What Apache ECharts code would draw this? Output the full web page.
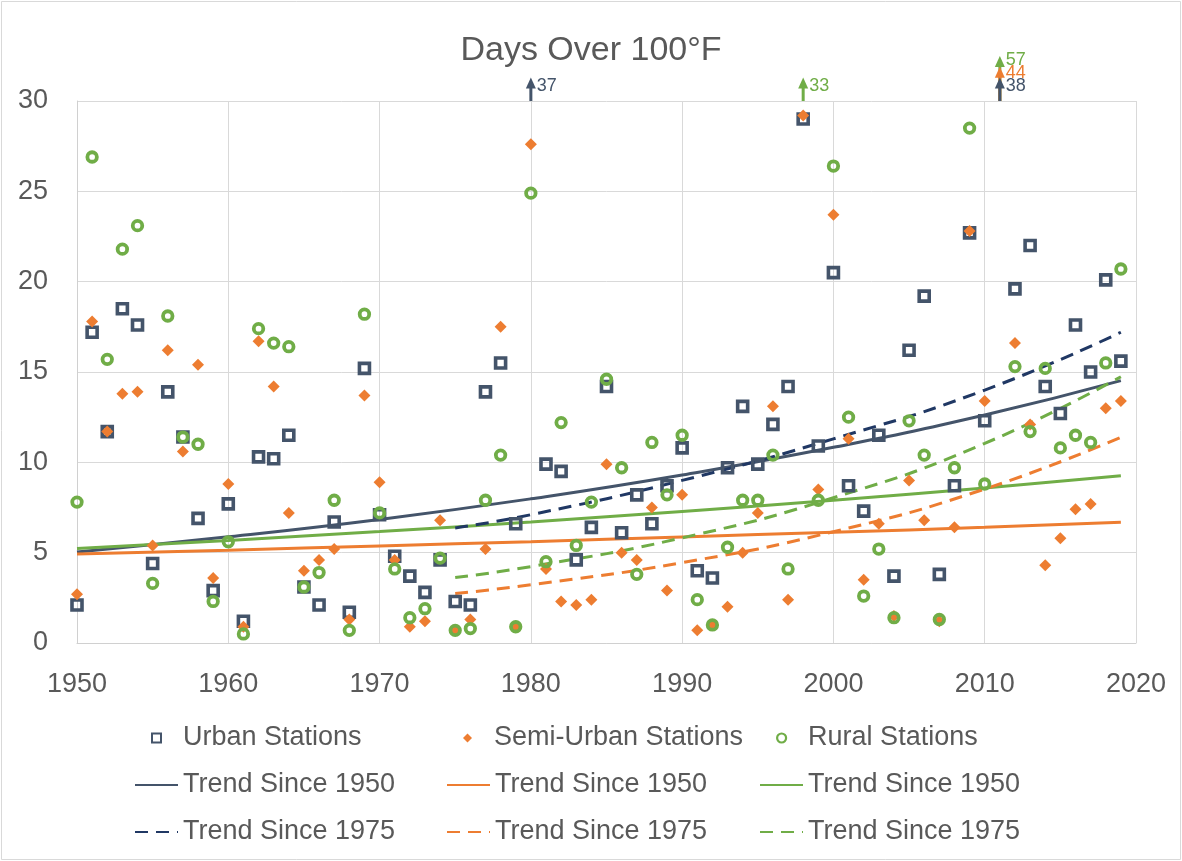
<!DOCTYPE html>
<html>
<head>
<meta charset="utf-8">
<script src="https://cdn.jsdelivr.net/npm/echarts@6/dist/echarts.min.js"></script>
<style>
html,body{margin:0;padding:0;background:#ffffff;}
#chart{width:1182px;height:861px;}
</style>
</head>
<body>
<div id="chart"></div>
<script>
// ---------- data ----------
const years = [1950,1951,1952,1953,1954,1955,1956,1957,1958,1959,
  1960,1961,1962,1963,1964,1965,1966,1967,1968,1969,
  1970,1971,1972,1973,1974,1975,1976,1977,1978,1979,
  1980,1981,1982,1983,1984,1985,1986,1987,1988,1989,
  1990,1991,1992,1993,1994,1995,1996,1997,1998,1999,
  2000,2001,2002,2003,2004,2005,2006,2007,2008,2009,
  2010,2011,2012,2013,2014,2015,2016,2017,2018,2019];

const urban = [2.1,17.2,11.7,18.5,17.6,4.4,13.9,11.4,6.9,2.9,
  7.7,1.2,10.3,10.2,11.5,3.1,2.1,6.7,1.7,15.2,
  7.1,4.8,3.7,2.8,4.6,2.3,2.1,13.9,15.5,6.6,
  37,9.9,9.5,4.6,6.4,14.2,6.1,8.2,6.6,8.7,
  10.8,4.0,3.6,9.7,13.1,9.9,12.1,14.2,29.0,10.9,
  20.5,8.7,7.3,11.5,3.7,16.2,19.2,3.8,8.7,22.7,
  12.3,38,19.6,22.0,14.2,12.7,17.6,15.0,20.1,15.6];

const semiUrban = [2.7,17.8,11.7,13.8,13.9,5.4,16.2,10.6,15.4,3.6,
  8.8,0.9,16.7,14.2,7.2,4.0,4.6,5.2,1.3,13.7,
  8.9,4.6,0.9,1.2,6.8,0.7,1.3,5.2,17.5,0.9,
  27.6,4.1,2.3,2.1,2.4,9.9,5.0,4.6,7.5,2.9,
  8.2,0.7,1.0,2.0,5.0,7.2,13.1,2.4,29.2,8.5,
  23.7,11.3,3.5,6.6,1.5,9.0,6.8,1.2,6.4,22.8,
  13.4,44,16.6,12.1,4.3,5.8,7.4,7.7,13.0,13.4];

const rural = [7.8,26.9,15.7,21.8,23.1,3.3,18.1,11.4,11.0,2.3,
  5.6,0.5,17.4,16.6,16.4,3.1,3.9,7.9,0.7,18.2,
  7.2,4.1,1.4,1.9,4.7,0.7,0.8,7.9,10.4,0.9,
  24.9,4.5,12.2,5.4,7.8,14.6,9.7,3.8,11.1,8.2,
  11.5,2.4,1.0,5.3,7.9,7.9,10.4,4.1,33,7.9,
  26.4,12.5,2.6,5.2,1.4,12.3,10.4,1.3,9.7,28.5,
  8.8,57,15.3,11.7,15.2,10.8,11.5,11.1,15.5,20.7];

// trend curves
const trend1950Years = [1950,1960,1970,1980,1990,2000,2010,2019];
const urbanTrend1950 = [5.04,5.88,6.84,7.98,9.3,10.83,12.62,14.52];
const semiTrend1950  = [4.92,5.14,5.37,5.61,5.87,6.13,6.4,6.69];
const ruralTrend1950 = [5.23,5.68,6.17,6.7,7.28,7.9,8.58,9.26];

const trend1975Years = [1975,1980,1990,2000,2010,2019];
const urbanTrend1975 = [6.37,7.1,9.0,11.3,14.0,17.2];
const semiTrend1975  = [2.74,3.22,4.45,6.16,8.52,11.39];
const ruralTrend1975 = [3.62,4.23,5.82,8.04,11.05,14.74];

const xTicks = [1950,1960,1970,1980,1990,2000,2010,2020];
const yTicks = [0,5,10,15,20,25,30];

const title = 'Days Over 100°F';
const seriesNames = ['Urban Stations','Semi-Urban Stations','Rural Stations'];
const trendLabel1950 = 'Trend Since 1950';
const trendLabel1975 = 'Trend Since 1975';

// ---------- styles ----------
const COLORS = ['#44546A','#ED7D31','#70AD47'];
const DASH_COLORS = ['#203864','#ED7D31','#70AD47'];
const TEXT = '#595959';
const FONT = '"Liberation Sans", Arial, sans-serif';
const Y_MIN = yTicks[0], Y_MAX = yTicks[yTicks.length-1];

const pairs = (xs, ys) => xs.map((x,i)=>[x, ys[i]]);

// values above the axis max become arrows
const valueSets = [urban, semiUrban, rural];
let arrows = [];
valueSets.forEach((vals, s) => {
  vals.forEach((v, i) => { if (v > Y_MAX) arrows.push({year: years[i], value: v, s: s}); });
});
arrows.forEach(a => {
  a.level = arrows.filter(b => b.year === a.year && b.value < a.value).length;
});
arrows.sort((a,b) => b.level - a.level);

const displayName = {
  'Urban Stations':'Urban Stations','Semi-Urban Stations':'Semi-Urban Stations','Rural Stations':'Rural Stations',
  uT50: trendLabel1950, sT50: trendLabel1950, rT50: trendLabel1950,
  uT75: trendLabel1975, sT75: trendLabel1975, rT75: trendLabel1975
};

function trendSeries(name, xs, ys, color, dashed) {
  return {
    name: name, type: 'line', data: pairs(xs, ys), smooth: 0.5,
    symbol: 'none', showSymbol: false, z: 1, silent: true,
    lineStyle: {color: color, width: 3, type: dashed ? [13,8] : 'solid', cap: 'butt'},
    itemStyle: {color: color}
  };
}

const LEGEND_TEXT = {color: TEXT, fontSize: 27, fontFamily: FONT, lineHeight: 30};
const COL_LEFT = [129, 441, 754];

function lineLegend(col, names) {
  return {
    orient: 'vertical', left: COL_LEFT[col], top: 765, itemWidth: 43, itemHeight: 8, itemGap: 17,
    textStyle: LEGEND_TEXT, formatter: n => displayName[n], selectedMode: false,
    data: names.map(n => ({name: n, itemStyle: {opacity: 0}}))
  };
}
function scatterLegend(col, name, bw) {
  return {
    orient: 'vertical', left: COL_LEFT[col] + 17, top: 718, itemWidth: 9, itemHeight: 9,
    textStyle: Object.assign({}, LEGEND_TEXT, {padding: [0, 0, 0, 17]}),
    formatter: n => displayName[n], selectedMode: false,
    data: [{name: name, itemStyle: {borderWidth: bw}}]
  };
}

const option = {
  backgroundColor: '#ffffff',
  animation: false,
  title: {
    text: title, left: 'center', top: 29,
    textStyle: {color: TEXT, fontSize: 34, fontWeight: 'normal', fontFamily: FONT}
  },
  graphic: [{
    type: 'rect', shape: {x: 1.5, y: 1.5, width: 1179, height: 858},
    style: {fill: null, stroke: '#D9D9D9', lineWidth: 1}, silent: true, z: -10
  }],
  legend: [
    scatterLegend(0, seriesNames[0], 2),
    scatterLegend(1, seriesNames[1], 0),
    scatterLegend(2, seriesNames[2], 2.2),
    lineLegend(0, ['uT50', 'uT75']),
    lineLegend(1, ['sT50', 'sT75']),
    lineLegend(2, ['rT50', 'rT75'])
  ],
  grid: {left: 77, right: 46, top: 101, bottom: 218, containLabel: false},
  xAxis: {
    type: 'value', min: xTicks[0], max: xTicks[xTicks.length-1], interval: 10,
    axisLine: {show: true, lineStyle: {color: '#D0D0D0', width: 1}},
    axisTick: {show: false},
    axisLabel: {color: TEXT, fontSize: 27, fontFamily: FONT, margin: 28, formatter: v => String(v)},
    splitLine: {show: true, lineStyle: {color: '#D9D9D9', width: 1}}
  },
  yAxis: {
    type: 'value', min: Y_MIN, max: Y_MAX, interval: 5,
    axisLine: {show: true, lineStyle: {color: '#D0D0D0', width: 1}},
    axisTick: {show: false},
    axisLabel: {color: TEXT, fontSize: 27, fontFamily: FONT, margin: 29, formatter: v => String(v)},
    splitLine: {show: true, lineStyle: {color: '#D9D9D9', width: 1}}
  },
  series: [
    trendSeries('uT50', trend1950Years, urbanTrend1950, COLORS[0], false),
    trendSeries('sT50', trend1950Years, semiTrend1950, COLORS[1], false),
    trendSeries('rT50', trend1950Years, ruralTrend1950, COLORS[2], false),
    trendSeries('uT75', trend1975Years, urbanTrend1975, DASH_COLORS[0], true),
    trendSeries('sT75', trend1975Years, semiTrend1975, DASH_COLORS[1], true),
    trendSeries('rT75', trend1975Years, ruralTrend1975, DASH_COLORS[2], true),
    {
      name: seriesNames[0], type: 'scatter', data: pairs(years, urban), z: 3,
      symbol: 'rect', symbolSize: 10, clip: true,
      itemStyle: {color: 'rgba(255,255,255,0)', borderColor: COLORS[0], borderWidth: 3.6, opacity: 1}
    },
    {
      name: seriesNames[1], type: 'scatter', data: pairs(years, semiUrban), z: 3,
      symbol: 'diamond', symbolSize: 12, clip: true,
      itemStyle: {color: COLORS[1], opacity: 1}
    },
    {
      name: seriesNames[2], type: 'scatter', data: pairs(years, rural), z: 3,
      symbol: 'circle', symbolSize: 9.5, clip: true,
      itemStyle: {color: 'rgba(255,255,255,0)', borderColor: COLORS[2], borderWidth: 3.8, opacity: 1}
    },
    {
      name: 'offscale', type: 'custom', clip: false, z: 4, silent: true,
      data: arrows.map(a => [a.year, a.value]),
      encode: {x: 0, y: 1},
      renderItem: function (params, api) {
        const a = arrows[params.dataIndex];
        const base = api.coord([a.year, Y_MAX]);
        const x = base[0], y0 = base[1];
        const color = COLORS[a.s];
        const tipY = y0 - 23.5 - 10.7 * a.level;
        const headH = 11, headW = 10;
        return {
          type: 'group',
          children: [
            {type: 'line', shape: {x1: x, y1: y0, x2: x, y2: tipY + headH - 1},
             style: {stroke: color, lineWidth: 3}},
            {type: 'polygon', shape: {points: [[x, tipY], [x - headW / 2, tipY + headH], [x + headW / 2, tipY + headH]]},
             style: {fill: color}},
            {type: 'text', x: x + 6, y: y0 - 15 - 13 * a.level,
             style: {text: String(a.value), fill: color, font: '18px ' + FONT, textVerticalAlign: 'middle', textAlign: 'left'}}
          ]
        };
      }
    }
  ]
};

const chart = echarts.init(document.getElementById('chart'), null, {renderer: 'canvas'});
chart.setOption(option);
</script>
</body>
</html>
